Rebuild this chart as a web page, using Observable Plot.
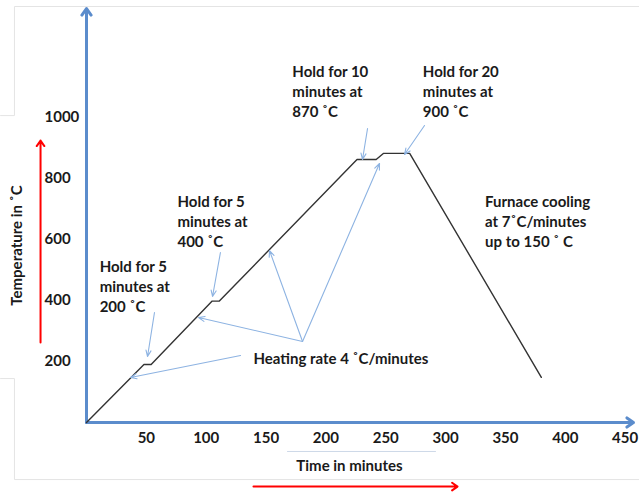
<!DOCTYPE html>
<html><head><meta charset="utf-8">
<script src="https://cdn.jsdelivr.net/npm/d3@7"></script>
<script src="https://cdn.jsdelivr.net/npm/@observablehq/plot@0.6"></script>
<style>
html,body{margin:0;padding:0;background:#fff;}
</style></head><body><div id="chart"></div>
<script>
// Heat-treatment profile (time in minutes, temperature in °C)
const time = [0, 48, 54, 105, 111, 226, 242, 248, 270, 380];
const temp = [0, 190, 190, 398, 398, 862, 862, 882, 882, 148];

const xTicks = [50, 100, 150, 200, 250, 300, 350, 400, 450];
const yTicks = [200, 400, 600, 800, 1000];
const xDomain = [0, 457];
const yDomain = [0, 1357];

// annotation texts and their anchor (time, temperature)
const noteText = [
  "Hold for 10\nminutes at\n870 ˚C",
  "Hold for 20\nminutes at\n900 ˚C",
  "Hold for 5\nminutes at\n400 ˚C",
  "Hold for 5\nminutes at\n200 ˚C",
  "Heating rate 4 ˚C/minutes",
  "Furnace cooling\nat 7˚C/minutes\nup to 150 ˚ C"
];
const noteX = [172, 281, 76, 11, 139.5, 333];
const noteY = [1088, 1088, 662, 449, 213, 662];

// thin blue pointer arrows: from (x1,y1) to (x2,y2)
const ptrX1 = [56.8, 128.7, 180.5, 180.5, 180.5, 111.9, 234.8, 282.4];
const ptrY1 = [360.5, 219.6, 265.5, 265.5, 265.5, 557.2, 963.6, 973.4];
const ptrX2 = [51.0, 36.8, 93.6, 152.9, 244.8, 105.3, 230.6, 265.7];
const ptrY2 = [216.3, 147.5, 344.1, 563.7, 848.9, 413.0, 862.0, 878.4];

// red direction arrows beside the axes
const redX1 = [-38.4, 139.5];
const redY1 = [262, -210];
const redX2 = [-38.4, 310];
const redY2 = [924, -210];

// faint box outlines around the picture
const boxGroup = ["a","a","a","a","b","b","b","b","c","c"];
const boxX = [-71.8, -60.2, -60.2, 462, -71.8, -60.2, -60.2, 462, 167.9, 291.6];
const boxY = [1006, 1006, 1363.5, 1363.5, 144, 144, -187, -187, -95, -95];

// axis titles
const xTitle = "Time in minutes";
const yTitle = "Temperature in ˚C";

const profile = time.map((t, i) => ({time: t, temp: temp[i]}));
const notes = noteText.map((s, i) => ({s, x: noteX[i], y: noteY[i]}));
const ptrs = ptrX1.map((_, i) => ({x1: ptrX1[i], y1: ptrY1[i], x2: ptrX2[i], y2: ptrY2[i]}));
const reds = redX1.map((_, i) => ({x1: redX1[i], y1: redY1[i], x2: redX2[i], y2: redY2[i]}));
const boxes = boxX.map((x, i) => ({g: boxGroup[i], x, y: boxY[i]}));
const axes = [
  {x1: xDomain[0], y1: yDomain[0], x2: xDomain[1], y2: yDomain[0]},
  {x1: xDomain[0], y1: yDomain[0], x2: xDomain[0], y2: yDomain[1]}
];

const chart = Plot.plot({
  width: 639,
  height: 493,
  marginLeft: 86,
  marginRight: 6,
  marginTop: 8,
  marginBottom: 71,
  style: {fontFamily: "Lato, sans-serif", fontWeight: 700, fontSize: "15px", color: "#1a1a1a", background: "#fff", overflow: "visible"},
  x: {domain: xDomain, label: null},
  y: {domain: yDomain, label: null},
  marks: [
    Plot.line(boxes, {x: "x", y: "y", z: "g", stroke: d => d.g === "c" ? "#cdd8e8" : "#e4e4e4", strokeWidth: 1, clip: false}),
    Plot.axisX(xTicks, {tickSize: 0, tickPadding: 10, label: null, fill: "#1a1a1a", tickFormat: d => String(d)}),
    Plot.axisY(yTicks, {tickSize: 0, tickPadding: 42, textAnchor: "start", label: null, fill: "#1a1a1a", tickFormat: d => String(d)}),
    Plot.arrow(axes, {x1: "x1", y1: "y1", x2: "x2", y2: "y2", stroke: "#5b8ccc", strokeWidth: 3, headLength: 4, headAngle: 70, clip: false}),
    Plot.line(profile, {x: "time", y: "temp", stroke: "#333", strokeWidth: 1.4}),
    Plot.arrow(ptrs, {x1: "x1", y1: "y1", x2: "x2", y2: "y2", stroke: "#8db3e2", strokeWidth: 1.1, headLength: 9, headAngle: 45}),
    Plot.arrow(reds, {x1: "x1", y1: "y1", x2: "x2", y2: "y2", stroke: "#ff0000", strokeWidth: 2, headLength: 5, headAngle: 70, clip: false}),
    Plot.text(notes, {x: "x", y: "y", text: "s", textAnchor: "start", lineAnchor: "middle", lineHeight: 1.33, fill: "#1a1a1a", clip: false}),
    Plot.text([xTitle], {x: 219.7, y: -144, text: d => d, fill: "#1a1a1a", clip: false}),
    Plot.text([yTitle], {x: -57.6, y: 580, text: d => d, rotate: -90, fill: "#1a1a1a", clip: false})
  ]
});
document.getElementById("chart").appendChild(chart);
</script></body></html>
